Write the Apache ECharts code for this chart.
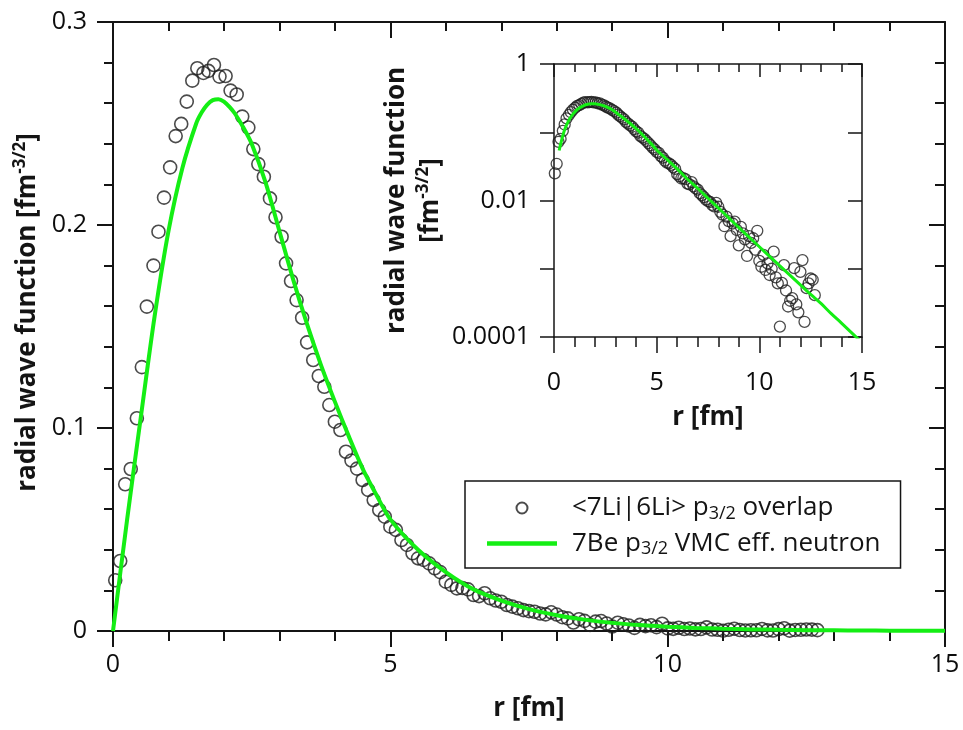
<!DOCTYPE html>
<html><head><meta charset="utf-8">
<script src="https://cdn.jsdelivr.net/npm/echarts@6/dist/echarts.min.js"></script>
<style>html,body{margin:0;padding:0;background:#fff}#c{width:963px;height:730px}</style>
</head><body><div id="c"></div>
<script>
// <7Li|6Li> p3/2 overlap (open circles)
const overlapR = [0.04,0.13,0.22,0.32,0.43,0.52,0.61,0.73,0.82,0.92,1.03,1.13,1.23,1.33,1.43,1.52,1.63,1.72,1.82,1.92,2.03,2.12,2.23,2.33,2.44,2.53,2.62,2.72,2.83,2.93,3.04,3.12,3.21,3.31,3.41,3.50,3.61,3.71,3.81,3.90,4.00,4.10,4.20,4.30,4.40,4.50,4.60,4.70,4.80,4.90,5.00,5.10,5.20,5.30,5.40,5.50,5.60,5.70,5.80,5.90,6.00,6.10,6.20,6.30,6.40,6.50,6.60,6.70,6.80,6.90,7.00,7.10,7.20,7.30,7.40,7.50,7.60,7.70,7.80,7.90,8.00,8.10,8.20,8.30,8.40,8.50,8.60,8.70,8.80,8.90,9.00,9.10,9.20,9.30,9.40,9.50,9.60,9.70,9.80,9.90,10.0,10.1,10.2,10.3,10.4,10.5,10.6,10.7,10.8,10.9,11.0,11.1,11.2,11.3,11.4,11.5,11.6,11.7,11.8,11.9,12.0,12.1,12.2,12.3,12.4,12.5,12.6,12.7];
const overlapPsi = [0.025,0.0345,0.0723,0.0798,0.1048,0.130,0.1598,0.180,0.1967,0.2135,0.2284,0.2438,0.2498,0.2608,0.2711,0.2772,0.2749,0.2759,0.2788,0.2731,0.2734,0.2662,0.2643,0.2534,0.2480,0.2374,0.2300,0.2238,0.2131,0.2038,0.1942,0.1811,0.1724,0.1630,0.1543,0.1422,0.1335,0.1256,0.1203,0.1113,0.1031,0.0990,0.0883,0.0840,0.0800,0.0744,0.0695,0.0645,0.0596,0.0563,0.0514,0.0498,0.0448,0.0424,0.0383,0.0358,0.0350,0.0333,0.0309,0.0290,0.0243,0.0227,0.0210,0.0212,0.0205,0.0177,0.0172,0.0186,0.0161,0.0150,0.0144,0.0128,0.0120,0.0112,0.0103,0.0098,0.0095,0.0086,0.0082,0.0092,0.0081,0.0068,0.0062,0.0042,0.0058,0.0050,0.0030,0.0046,0.0049,0.0037,0.0022,0.0041,0.0033,0.0027,0.00154,0.0030,0.0024,0.0028,0.0019,0.0036,0.0013,0.00107,0.0016,0.00096,0.0012,0.00081,0.0010,0.00178,0.00075,0.00061,0.000142,0.00062,0.00113,0.00048,0.00028,0.00034,0.00037,0.00102,0.00030,0.00023,0.00090,0.00134,0.000167,0.00052,0.00061,0.00072,0.00069,0.00041];
// 7Be p3/2 VMC eff. neutron (green line)
const vmcR = [0,0.25,0.5,0.75,1.0,1.25,1.5,1.6,1.7,1.8,1.9,2.0,2.1,2.2,2.35,2.5,2.75,3.0,3.25,3.5,3.75,4.0,4.25,4.5,4.75,5.0,5.5,6.0,6.5,7.0,7.5,8.0,8.5,9.0,9.5,10,10.5,11,11.5,12,12.5,13,13.5,14,14.5,15];
const vmcPsi = [0,0.054,0.105,0.155,0.197,0.228,0.250,0.2555,0.2593,0.2615,0.2620,0.2608,0.2582,0.2548,0.2480,0.2400,0.2210,0.1970,0.1730,0.1510,0.1310,0.1130,0.0960,0.0800,0.0670,0.0550,0.0400,0.0290,0.0205,0.0150,0.0108,0.0078,0.0056,0.0040,0.0029,0.0021,0.00152,0.0011,0.0008,0.00058,0.00042,0.00031,0.00022,0.00016,0.000115,0.000083];
// tick labels
const mainXLabels = ['0','5','10','15'];
const mainYLabels = ['0','0.1','0.2','0.3'];
const insetXLabels = ['0','5','10','15'];
const insetYLabels = ['1','0.01','0.0001'];
const seriesNames = ['overlap','vmc'];

const FONT = 'Open Sans';
const INK = '#141414';
const GREEN = '#14ee14';

const overlapData = overlapR.map((r,i)=>[r, overlapPsi[i]]);
const vmcData = vmcR.map((r,i)=>[r, vmcPsi[i]]);
const vmcLog = vmcData.filter(d=>d[1]>0);

function axisCommon(w){
  return {axisLine:{show:true,onZero:false,lineStyle:{color:INK,width:w}}, splitLine:{show:false}};
}
const labelStyle = {fontFamily:FONT,fontSize:25,color:'#0c0c0c'};
const nameStyle = {fontFamily:FONT,fontSize:26,fontWeight:'bold',color:INK,
  rich:{sup:{fontFamily:FONT,fontSize:17,fontWeight:'bold',color:INK,padding:[0,0,15,0]}}};

const chart = echarts.init(document.getElementById('c'), null, {renderer:'canvas'});
chart.setOption({
  animation:false,
  backgroundColor:'#fff',
  grid:[
    {left:113, right:18, top:22, bottom:99, show:false},
    {left:554, right:101, top:64, bottom:393, show:false}
  ],
  xAxis:[
    Object.assign(axisCommon(2),{gridIndex:0,type:'value',min:0,max:15,interval:5,position:'bottom',
      axisTick:{show:true,length:16,lineStyle:{color:INK,width:2}},
      minorTick:{show:true,splitNumber:5,length:10,lineStyle:{color:INK,width:2}},
      axisLabel:{...labelStyle,margin:21,formatter:v=>mainXLabels[Math.round(v/5)]},
      name:'r [fm]',nameLocation:'middle',nameGap:65,nameTextStyle:nameStyle}),
    Object.assign(axisCommon(2),{gridIndex:0,type:'value',min:0,max:15,interval:5,position:'top',
      axisTick:{show:true,inside:true,length:16,lineStyle:{color:INK,width:2}},
      minorTick:{show:true,splitNumber:5,length:9,lineStyle:{color:INK,width:2}},
      axisLabel:{show:false}}),
    Object.assign(axisCommon(1.5),{gridIndex:1,type:'value',min:0,max:15,interval:5,position:'bottom',
      axisTick:{show:true,length:16,lineStyle:{color:INK,width:1.5}},
      minorTick:{show:true,splitNumber:5,length:10,lineStyle:{color:INK,width:1.5}},
      axisLabel:{...labelStyle,margin:33,formatter:v=>insetXLabels[Math.round(v/5)]},
      name:'r [fm]',nameLocation:'middle',nameGap:68,nameTextStyle:nameStyle}),
    Object.assign(axisCommon(1.5),{gridIndex:1,type:'value',min:0,max:15,interval:5,position:'top',
      axisTick:{show:true,inside:true,length:13,lineStyle:{color:INK,width:1.5}},
      minorTick:{show:true,splitNumber:5,length:8,lineStyle:{color:INK,width:1.5}},
      axisLabel:{show:false}})
  ],
  yAxis:[
    Object.assign(axisCommon(2),{gridIndex:0,type:'value',min:0,max:0.3,interval:0.1,position:'left',
      axisTick:{show:true,length:16,lineStyle:{color:INK,width:2}},
      minorTick:{show:true,splitNumber:5,length:9,lineStyle:{color:INK,width:2}},
      axisLabel:{...labelStyle,margin:26,formatter:v=>mainYLabels[Math.round(v/0.1)]},
      name:'radial wave function [fm{sup|-3/2}]',nameLocation:'middle',nameGap:68,
      nameTextStyle:Object.assign({},nameStyle,{padding:[0,0,0,28]})}),
    Object.assign(axisCommon(2),{gridIndex:0,type:'value',min:0,max:0.3,interval:0.1,position:'right',
      axisTick:{show:true,inside:true,length:16,lineStyle:{color:INK,width:2}},
      minorTick:{show:true,splitNumber:5,length:10,lineStyle:{color:INK,width:2}},
      axisLabel:{show:false}}),
    Object.assign(axisCommon(1.5),{gridIndex:1,type:'log',logBase:10,min:0.0001,max:1,position:'left',
      axisTick:{show:true,length:14,lineStyle:{color:INK,width:1.5}},
      axisLabel:{...labelStyle,margin:24,formatter:v=>{
        const e=Math.round(Math.log10(v));
        const s=['1','0.1','0.01','0.001','0.0001'][-e];
        return insetYLabels.indexOf(s)>=0?s:'';}},
      name:'radial wave function\n[fm{sup|-3/2}]',nameLocation:'middle',nameGap:95,
      nameTextStyle:Object.assign({},nameStyle,{lineHeight:34})}),
    Object.assign(axisCommon(1.5),{gridIndex:1,type:'log',logBase:10,min:0.0001,max:1,position:'right',
      axisTick:{show:true,inside:true,length:14,lineStyle:{color:INK,width:1.5}},
      axisLabel:{show:false}})
  ],
  legend:{
    left:465, top:481, orient:'vertical', selectedMode:false,
    backgroundColor:'#fff', borderColor:INK, borderWidth:1.5, borderRadius:0,
    padding:[14,20,10,22], itemGap:8, itemWidth:70, itemHeight:11,
    data:[{name:seriesNames[0]},{name:seriesNames[1],icon:'path://M0,0h70v4.5h-70z'}],
    formatter:n=> n==='overlap' ? '{g|}<7Li|6Li> p{sub|3/2} overlap' : '{g|}7Be p{sub|3/2} VMC eff. neutron',
    textStyle:{fontFamily:FONT,fontSize:26,color:INK,
      rich:{g:{width:10},sub:{fontFamily:FONT,fontSize:18,color:INK,padding:[11,0,0,0]}}}
  },
  series:[
    {name:'overlap',type:'scatter',xAxisIndex:0,yAxisIndex:0,data:overlapData,symbol:'circle',symbolSize:13,
      itemStyle:{color:'rgba(0,0,0,0)',borderColor:'#1e1e1e',borderWidth:1.6},z:2},
    {name:'vmc',type:'line',xAxisIndex:0,yAxisIndex:0,data:vmcData,smooth:0.3,symbol:'none',
      lineStyle:{color:GREEN,width:4},itemStyle:{color:GREEN},z:3},
    {name:'overlap',type:'scatter',xAxisIndex:2,yAxisIndex:2,data:overlapData,symbol:'circle',symbolSize:11,
      itemStyle:{color:'rgba(0,0,0,0)',borderColor:'#1e1e1e',borderWidth:1.3},z:2},
    {name:'vmc',type:'line',xAxisIndex:2,yAxisIndex:2,data:vmcLog,smooth:0.3,symbol:'none',
      lineStyle:{color:GREEN,width:3},itemStyle:{color:GREEN},z:3}
  ]
});
</script></body></html>
